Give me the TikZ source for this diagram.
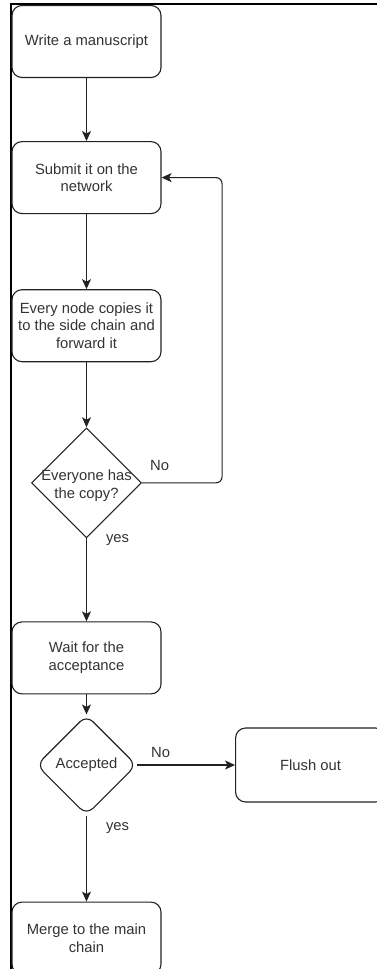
\documentclass[tikz,border=0pt]{standalone}
\usepackage{fontspec}
\setmainfont{Liberation Sans}
\usetikzlibrary{arrows.meta,positioning,shapes.geometric}
\definecolor{inkgray}{HTML}{222222}
\definecolor{textgray}{HTML}{333333}

\tikzset{
  stepcard/.style={draw=inkgray, rounded corners=10pt, line width=1.1pt,
    minimum width=149pt, minimum height=72pt, inner sep=2pt,
    align=center, text=textgray},
  decision/.style={draw=inkgray, diamond, line width=1.1pt, inner sep=0pt,
    aspect=1, text=textgray, align=center},
  flowline/.style={draw=inkgray, line width=1.1pt,
    -{Stealth[length=10pt,width=9pt,inset=2.5pt]}},
  edgetag/.style={text=textgray, inner sep=0pt}
}

\begin{document}
\begin{tikzpicture}[x=1pt,y=-1pt,font=\fontsize{14.8pt}{17.6pt}\selectfont]
\clip (0,0) rectangle (377,969);
% window frame
\draw[black, line width=2pt] (377,4) -- (10.5,4) -- (10.5,969);

\node[stepcard] (write) at (86.5,41.5) {Write a manuscript};
\node[stepcard, below=63pt of write] (submit) {Submit it on the\\network};
\node[stepcard, below=75pt of submit] (copy) {Every node copies it\\to the side chain and\\forward it};
\node[decision, minimum size=110pt, below=65pt of copy,
  label={[align=center, text=textgray, yshift=-3pt]center:Everyone has\\the copy?}] (check) {};
\node[stepcard, below=83pt of check] (wait) {Wait for the\\acceptance};
\node[decision, rounded corners=9pt, minimum size=100pt, below=20pt of wait] (accepted) {Accepted};
\node[stepcard, minimum width=150pt, minimum height=74pt, right=98pt of accepted] (flush) {Flush out};
\node[stepcard, below=86pt of accepted] (merge) {Merge to the main\\chain};

\draw[flowline] (write) -- (submit);
\draw[flowline] (submit) -- (copy);
\draw[flowline] (copy) -- (check);
\draw[flowline] (check) -- node[edgetag, pos=0.02, anchor=west, xshift=19pt] {yes} (wait);
\draw[flowline, rounded corners=6pt] (check.east)
  -- node[edgetag, pos=0.22, above=12pt] {No} ++(80pt,0) |- (submit.east);
\draw[flowline] (wait) -- (accepted);
\draw[flowline] (accepted) -- node[edgetag, pos=0.24, above=7pt] {No} (flush);
\draw[flowline] (accepted) -- node[edgetag, pos=0.145, anchor=west, xshift=19pt] {yes} (merge);
\end{tikzpicture}
\end{document}
